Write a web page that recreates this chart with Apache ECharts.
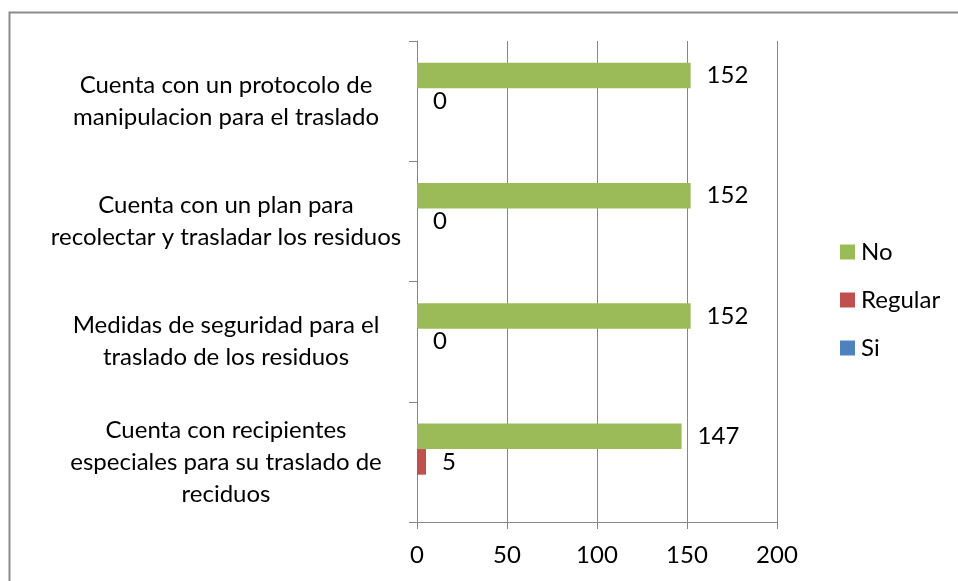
<!DOCTYPE html>
<html>
<head>
<meta charset="utf-8">
<script src="https://cdn.jsdelivr.net/npm/echarts@6/dist/echarts.min.js"></script>
<style>
  html, body { margin: 0; padding: 0; background: #fff; }
  #chart { width: 958px; height: 581px; }
</style>
</head>
<body>
<div id="chart"></div>
<script>
// categories, bottom to top (as on the y axis)
var categories = [
  "Cuenta con recipientes\nespeciales para su traslado de\nreciduos",
  "Medidas de seguridad para el\ntraslado de los residuos",
  "Cuenta con un plan para\nrecolectar y trasladar los residuos",
  "Cuenta con un protocolo de\nmanipulacion para el traslado"
];
var siValues = [null, null, null, null];
var regularValues = [5, 0, 0, 0];
var noValues = [147, 152, 152, 152];
var xTicks = [0, 50, 100, 150, 200];

var font = "Lato";
var gray = "#868686";
var fs = 24;

var chart = echarts.init(document.getElementById("chart"));

function barLabel() {
  return { show: true, position: "right", distance: 16, fontFamily: font, fontSize: fs, color: "#000" };
}

var option = {
  animation: false,
  textStyle: { fontFamily: font },
  graphic: [
    {
      type: "rect",
      shape: { x: 9.5, y: 12.5, width: 1000, height: 1000 },
      style: { fill: "none", stroke: "#8c8c8c", lineWidth: 2 }
    }
  ],
  grid: { left: 417, right: 181, top: 41, bottom: 59 },
  legend: {
    orient: "vertical",
    left: 840,
    top: 240,
    padding: 0,
    itemWidth: 15,
    itemHeight: 15,
    itemGap: 24,
    icon: "rect",
    data: ["No", "Regular", "Si"],
    textStyle: { fontFamily: font, fontSize: fs, color: "#000", padding: [0, 0, 0, 1] }
  },
  xAxis: {
    type: "value",
    min: xTicks[0],
    max: xTicks[xTicks.length - 1],
    interval: xTicks[1] - xTicks[0],
    axisLine: { show: true, lineStyle: { color: gray } },
    axisTick: { show: true, length: 7, lineStyle: { color: gray } },
    splitLine: { show: true, lineStyle: { color: gray } },
    axisLabel: { fontFamily: font, fontSize: fs, color: "#000", margin: 21 }
  },
  yAxis: {
    type: "category",
    data: categories,
    axisLine: { show: true, lineStyle: { color: gray } },
    axisTick: { show: true, length: 8, lineStyle: { color: gray } },
    axisLabel: {
      fontFamily: font,
      fontSize: fs,
      lineHeight: 32,
      color: "#000",
      align: "center",
      margin: 191
    }
  },
  series: [
    {
      name: "No",
      type: "bar",
      data: noValues,
      barGap: "0%",
      barCategoryGap: "36%",
      itemStyle: { color: "#9BBB59" },
      label: barLabel()
    },
    {
      name: "Regular",
      type: "bar",
      data: regularValues,
      barGap: "0%",
      barCategoryGap: "36%",
      itemStyle: { color: "#C0504D" },
      label: barLabel()
    },
    {
      name: "Si",
      type: "bar",
      data: siValues,
      barGap: "0%",
      barCategoryGap: "36%",
      itemStyle: { color: "#4F81BD" },
      label: { show: false }
    }
  ]
};

chart.setOption(option);
</script>
</body>
</html>
